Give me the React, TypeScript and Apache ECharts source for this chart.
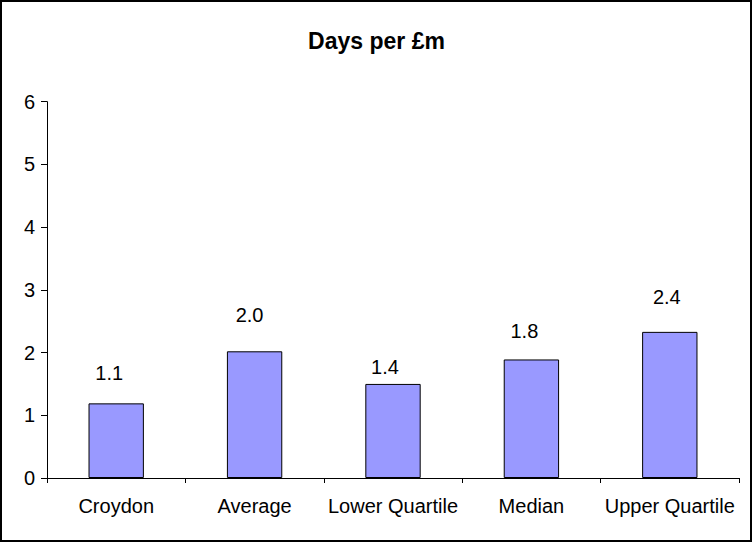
import React, { useEffect, useRef } from "react";
import * as echarts from "echarts";

const categories = ["Croydon", "Average", "Lower Quartile", "Median", "Upper Quartile"];
const barValues = [1.19, 2.02, 1.5, 1.89, 2.33];
const labelTexts = ["1.1", "2.0", "1.4", "1.8", "2.4"];
const yTicks = [0, 1, 2, 3, 4, 5, 6];

const labelGaps = [20, 26, 7, 18, 25];
const labelShiftX = [-7, -5, -8, -7, -3];

export default function App() {
  const ref = useRef<HTMLDivElement>(null);
  useEffect(() => {
    if (!ref.current) return;
    const chart = echarts.init(ref.current, null, { renderer: "svg" });
    const font = "Liberation Sans, Arial, sans-serif";
    chart.setOption({
      animation: false,
      backgroundColor: "#ffffff",
      title: {
        text: "Days per £m",
        left: "center",
        top: 24,
        textStyle: { fontFamily: font, fontSize: 23, fontWeight: "bold", color: "#000" },
      },
      graphic: [
        {
          type: "rect",
          shape: { x: 1, y: 1, width: 750, height: 540 },
          style: { fill: "none", stroke: "#000", lineWidth: 2 },
          silent: true,
        },
      ],
      grid: { left: 47, right: 14, top: 101.7, bottom: 66, containLabel: false },
      xAxis: {
        type: "category",
        data: categories,
        axisLine: { lineStyle: { color: "#000", width: 1 } },
        axisTick: { show: true, length: 5, lineStyle: { color: "#000" }, alignWithLabel: false },
        axisLabel: { color: "#000", fontFamily: font, fontSize: 20, margin: 18, interval: 0 },
        splitLine: { show: false },
      },
      yAxis: {
        type: "value",
        min: yTicks[0],
        max: yTicks[yTicks.length - 1],
        interval: 1,
        axisLine: { show: true, lineStyle: { color: "#000", width: 1 } },
        axisTick: { show: true, length: 6, lineStyle: { color: "#000" } },
        axisLabel: { color: "#000", fontFamily: font, fontSize: 20, margin: 12 },
        splitLine: { show: false },
      },
      series: [
        {
          type: "bar",
          barWidth: "40%",
          data: barValues.map((v, i) => ({
            value: v,
            label: {
              show: true,
              position: "top",
              distance: labelGaps[i],
              offset: [labelShiftX[i], 0],
              formatter: () => labelTexts[i],
              color: "#000",
              fontFamily: font,
              fontSize: 20,
            },
          })),
          itemStyle: { color: "#9999FF", borderColor: "#000", borderWidth: 1 },
        },
      ],
    });
    return () => chart.dispose();
  }, []);
  return (
    <div
      ref={ref}
      style={{ position: "absolute", left: 0, top: 0, width: 753, height: 544 }}
    />
  );
}
